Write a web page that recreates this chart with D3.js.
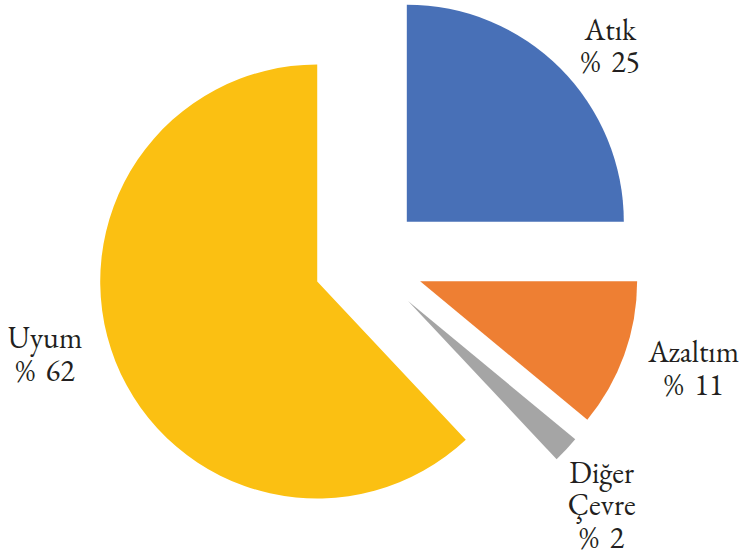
<!DOCTYPE html>
<html>
<head>
<meta charset="utf-8">
<script src="https://cdn.jsdelivr.net/npm/d3@7"></script>
<style>
  html, body { margin: 0; padding: 0; background: #ffffff; }
  svg { display: block; }
  text.lbl { font-family: "EB Garamond", "Liberation Serif", serif; }
</style>
</head>
<body>
<div id="chart"></div>
<script>
// ---- data ----
const categories = ["Atık", "Azaltım", "Diğer Çevre", "Uyum"];
const values = [25, 11, 2, 62];
const labelLines = [["Atık", "% 25"], ["Azaltım", "% 11"], ["Diğer", "Çevre", "% 2"], ["Uyum", "% 62"]];
const colors = ["#4870B7", "#EE7F33", "#A5A5A5", "#FBC012"];

// ---- layout ----
const W = 742, H = 554;
const cx = 366.5, cy = 262;
const radius = 217;
const explode = [57, 57, 57, 53];
const labelRadius = 335;
const labelNudge = [[7, 21], [12, -7], [-9, 14], [-10, -31]];
const fontSize = 30, lineH = 32.5;

const svg = d3.select("#chart").append("svg")
  .attr("width", W).attr("height", H);

const pie = d3.pie().sort(null).value(d => d)
  .startAngle(0).endAngle(2 * Math.PI);
const arcs = pie(values);
const arc = d3.arc().innerRadius(0).outerRadius(radius);

const g = svg.append("g").attr("transform", `translate(${cx},${cy})`);

g.selectAll("path.slice")
  .data(arcs)
  .join("path")
  .attr("class", "slice")
  .attr("d", arc)
  .attr("fill", (d, i) => colors[i])
  .attr("transform", (d, i) => {
    const m = (d.startAngle + d.endAngle) / 2;
    return `translate(${explode[i] * Math.sin(m)},${-explode[i] * Math.cos(m)})`;
  });

g.selectAll("text.lbl")
  .data(arcs)
  .join("text")
  .attr("class", "lbl")
  .style("font-family", "\"EB Garamond\", \"Liberation Serif\", serif")
  .style("font-size", fontSize + "px")
  .style("word-spacing", "5px")
  .attr("fill", "#231F20")
  .attr("text-anchor", "middle")
  .each(function (d, i) {
    const m = (d.startAngle + d.endAngle) / 2;
    const x = labelRadius * Math.sin(m) + labelNudge[i][0];
    const y = -labelRadius * Math.cos(m) + labelNudge[i][1];
    const lines = labelLines[i];
    const n = lines.length;
    d3.select(this).selectAll("tspan")
      .data(lines)
      .join("tspan")
      .attr("x", x)
      .attr("y", (t, k) => y + (k - (n - 1) / 2) * lineH + 10)
      .text(t => t);
  });
</script>
</body>
</html>
